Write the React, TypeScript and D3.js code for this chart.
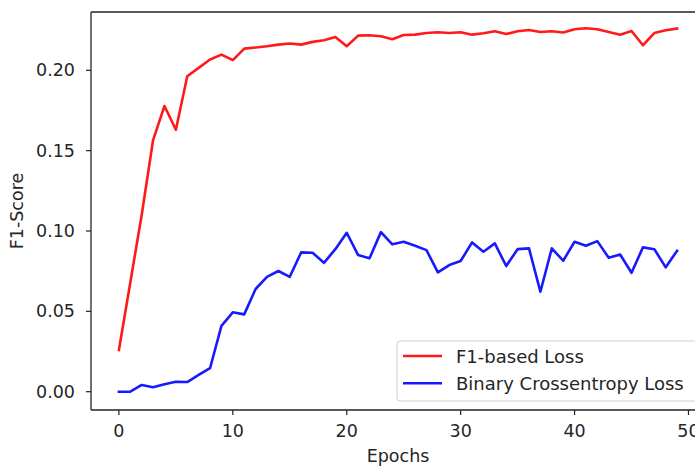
import React from "react";
import * as d3 from "d3";

const epochs = d3.range(0, 50);

const f1Loss = [
  0.026, 0.068, 0.11, 0.1566, 0.1778, 0.163, 0.1963, 0.2015, 0.2067, 0.2098,
  0.2063, 0.2135, 0.2142, 0.215, 0.216, 0.2167, 0.216, 0.2177, 0.2187, 0.2208,
  0.215, 0.2216, 0.2218, 0.2212, 0.2193, 0.222, 0.2222, 0.2232, 0.2237, 0.2232,
  0.2237, 0.2222, 0.2231, 0.2243, 0.2226, 0.2243, 0.2251, 0.2239, 0.2243, 0.2235,
  0.2256, 0.2262, 0.2256, 0.2239, 0.2222, 0.2245, 0.2156, 0.2232, 0.2249, 0.226,
];

const bceLoss = [
  0.0, 0.0, 0.0042, 0.0027, 0.0046, 0.0062, 0.006, 0.0104, 0.0146, 0.041,
  0.0494, 0.0481, 0.0639, 0.0715, 0.0751, 0.0715, 0.0867, 0.0865, 0.0802, 0.0887,
  0.0989, 0.085, 0.083, 0.0993, 0.0917, 0.0933, 0.0908, 0.0881, 0.0742, 0.0788,
  0.0813, 0.0929, 0.0871, 0.0923, 0.0782, 0.0887, 0.0892, 0.0622, 0.0892, 0.0815,
  0.0933, 0.0908, 0.0937, 0.0833, 0.0854, 0.074, 0.0898, 0.0887, 0.0774, 0.0877,
];

const xTicks = [0, 10, 20, 30, 40, 50];
const yTicks = [0, 0.05, 0.1, 0.15, 0.2];

const seriesNames = ["F1-based Loss", "Binary Crossentropy Loss"];
const seriesColors = ["#ff0000", "#0000ff"];

const W = 695;
const H = 466;
const left = 91;
const right = 705;
const top = 12;
const bottom = 410;
const font = "DejaVu Sans";
const fs = 17.5;

export default function App() {
  const x = d3.scaleLinear().domain([-2.45, 51.45]).range([left, right]);
  const y = d3.scaleLinear().domain([-0.0114, 0.2363]).range([bottom, top]);

  const line = d3
    .line<number>()
    .x((_, i) => x(epochs[i]))
    .y(d => y(d));

  const series = [f1Loss, bceLoss];

  return (
    <svg
      width={W}
      height={H}
      style={{ position: "absolute", left: 0, top: 0, background: "#fff" }}
      fontFamily={font}
    >
      <rect x={0} y={0} width={W} height={H} fill="#fff" />

      {series.map((s, k) => (
        <path
          key={k}
          d={line(s) ?? ""}
          fill="none"
          stroke={seriesColors[k]}
          strokeWidth={2.6}
          strokeLinejoin="round"
          strokeLinecap="square"
          opacity={0.9}
        />
      ))}

      {/* spines */}
      <line x1={left} x2={left} y1={top} y2={bottom} stroke="#222" strokeWidth={1.3} />
      <line x1={left} x2={right} y1={bottom} y2={bottom} stroke="#222" strokeWidth={1.3} />
      <line x1={left} x2={right} y1={top} y2={top} stroke="#222" strokeWidth={1.3} />
      <line x1={right} x2={right} y1={top} y2={bottom} stroke="#222" strokeWidth={1.3} />

      {/* y ticks */}
      {yTicks.map(t => (
        <g key={t}>
          <line x1={left - 5} x2={left} y1={y(t)} y2={y(t)} stroke="#222" strokeWidth={1.2} />
          <text
            x={left - 16}
            y={y(t)}
            textAnchor="end"
            dominantBaseline="central"
            fontSize={fs}
            fill="#262626"
          >
            {d3.format(".2f")(t)}
          </text>
        </g>
      ))}

      {/* x ticks */}
      {xTicks.map(t => (
        <g key={t}>
          <line x1={x(t)} x2={x(t)} y1={bottom} y2={bottom + 5} stroke="#222" strokeWidth={1.2} />
          <text x={x(t)} y={437} textAnchor="middle" fontSize={fs} fill="#262626">
            {t}
          </text>
        </g>
      ))}

      {/* axis labels */}
      <text x={(left + right) / 2} y={462} textAnchor="middle" fontSize={fs} fill="#262626">
        Epochs
      </text>
      <text
        transform={`translate(17, ${(top + bottom) / 2}) rotate(-90)`}
        textAnchor="middle"
        dominantBaseline="central"
        fontSize={fs}
        fill="#262626"
      >
        F1-Score
      </text>

      {/* legend */}
      <rect
        x={397}
        y={341}
        width={310}
        height={60}
        rx={3}
        fill="#fff"
        fillOpacity={0.8}
        stroke="#d0d0d0"
        strokeWidth={1}
      />
      {seriesNames.map((name, k) => (
        <g key={name}>
          <line
            x1={403}
            x2={442}
            y1={356 + k * 27.3}
            y2={356 + k * 27.3}
            stroke={seriesColors[k]}
            strokeWidth={2.6}
            opacity={0.9}
          />
          <text
            x={456}
            y={356 + k * 27.3}
            dominantBaseline="central"
            fontSize={18}
            fill="#262626"
          >
            {name}
          </text>
        </g>
      ))}
    </svg>
  );
}
